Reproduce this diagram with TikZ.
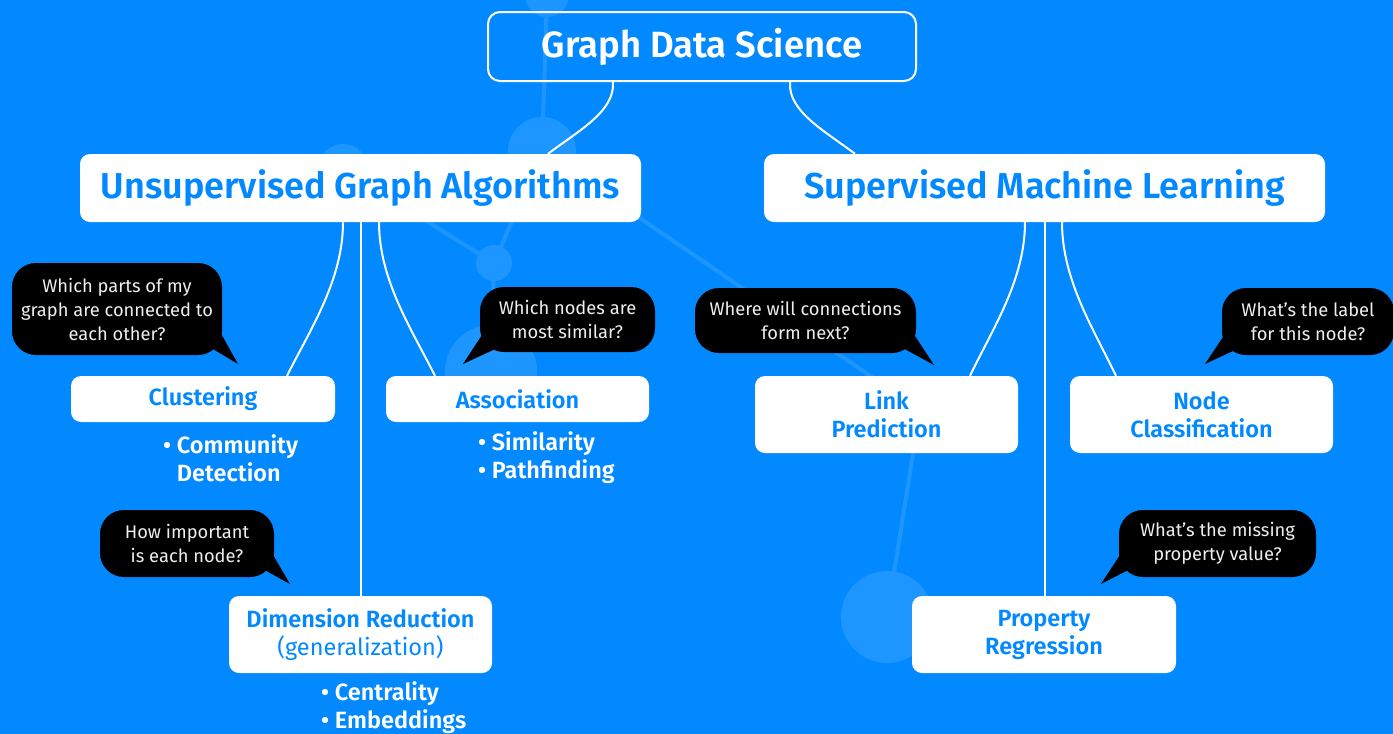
\documentclass[tikz,border=0pt]{standalone}
\usepackage{fontspec}
\setmainfont{Fira Sans}[BoldFont={Fira Sans SemiBold}]
\usetikzlibrary{calc}
\definecolor{bg}{RGB}{3,137,255}
\definecolor{faint}{RGB}{30,150,255}
\definecolor{bubtext}{RGB}{238,238,238}
\begin{document}
\begin{tikzpicture}[x=1pt,y=-1pt,
  box/.style={fill=white, rounded corners=10pt, text=bg, font=\bfseries\fontsize{23.5}{28}\selectfont, align=center, inner sep=0pt},
  bigbox/.style={box, font=\bfseries\fontsize{36}{40}\selectfont},
  topbox/.style={draw=white, line width=2pt, rounded corners=12pt, text=white, font=\bfseries\fontsize{36.5}{40}\selectfont, inner sep=0pt},
  bubble/.style={fill=black, rounded corners=24pt, text=bubtext, font=\fontsize{18.3}{24}\selectfont, align=center, inner sep=0pt},
  link/.style={draw=white, line width=2pt},
  bgline/.style={draw=faint, line width=4pt},
  bgdot/.style={fill=faint},
  bullets/.style={text=white, font=\bfseries\fontsize{23.5}{28}\selectfont, align=left, anchor=west, inner sep=0pt}
]
\useasboundingbox (0,0) rectangle (1393,734);
\fill[bg] (0,0) rectangle (1393,734);

% faint background graph
\coordinate (ga) at (547,-5);
\coordinate (gb) at (542,151);
\coordinate (gc) at (343,169);
\coordinate (gd) at (494,263);
\coordinate (ge) at (491,371);
\coordinate (gf) at (920,410);
\coordinate (gg) at (887,617);
\coordinate (gh) at (660,-12);
\draw[bgline] (ga) -- (gh);
\draw[bgline] (ga) -- (gb);
\draw[bgline] (gb) -- (gd);
\draw[bgline] (gc) -- (gd);
\draw[bgline] (gd) -- (ge);
\draw[bgline] (gb) -- (gf);
\draw[bgline] (gf) -- (gg);
\fill[bgdot] (ga) circle (22);
\fill[bgdot] (gb) circle (34);
\fill[bgdot] (gc) circle (25);
\fill[bgdot] (gd) circle (18);
\fill[bgdot] (ge) circle (46);
\fill[bgdot] (gf) circle (20);
\fill[bgdot] (gg) circle (46);

% main nodes
\node[topbox, minimum width=428pt, minimum height=69pt] (gds) at (702,46.5) {Graph Data Science};
\node[bigbox, minimum width=561pt, minimum height=68pt] (unsup) at (360.5,188) {Unsupervised Graph Algorithms};
\node[bigbox, minimum width=561pt, minimum height=68pt] (sup) at (1044.5,188) {Supervised Machine Learning};

\node[box, minimum width=264pt, minimum height=46pt] (clus) at (203,399) {Clustering};
\node[box, minimum width=263pt, minimum height=46pt] (assoc) at (517.5,399) {Association};
\node[box, minimum width=263pt, minimum height=77pt] (dim) at (360.5,634.5) {Dimension Reduction\\{\mdseries(generalization)}};
\node[box, minimum width=263pt, minimum height=77pt] (link) at (886.5,414.5) {Link\\Prediction};
\node[box, minimum width=263pt, minimum height=77pt] (nodec) at (1201.5,414.5) {Node\\Classification};
\node[box, minimum width=264pt, minimum height=77pt] (prop) at (1044,634.5) {Property\\Regression};

% bullets
\node[bullets] (bclus) at (163,458) {\textbullet\ Community\\\hphantom{\textbullet\ }Detection};
\node[bullets] (bassoc) at (478,458) {\textbullet\ Similarity\\\textbullet\ Pathfinding};
\node[bullets] (bdim) at (321,708) {\textbullet\ Centrality\\\textbullet\ Embeddings};

% connectors
\draw[link] ([xshift=-89pt]gds.south) .. controls +(2,29) and +(32,-24) .. ([xshift=187.5pt]unsup.north);
\draw[link] ([xshift=88pt]gds.south) .. controls +(-2,29) and +(-32,-24) .. ([xshift=-189.5pt]sup.north);
\draw[link] ([xshift=-17.5pt]unsup.south) .. controls +(0,58) and +(23,-46) .. ([xshift=84pt]clus.north);
\draw[link] ([xshift=18.5pt]unsup.south) .. controls +(0,58) and +(-23,-46) .. ([xshift=-82.5pt]assoc.north);
\draw[link] (unsup.south) -- (dim.north);
\draw[link] ([xshift=-19.5pt]sup.south) .. controls +(0,58) and +(22,-46) .. ([xshift=83.5pt]link.north);
\draw[link] ([xshift=17.5pt]sup.south) .. controls +(0,58) and +(-22,-46) .. ([xshift=-85.5pt]nodec.north);
\draw[link] (sup.south) -- (sup.south |- prop.north);

% speech bubbles
\node[bubble, minimum width=210pt, minimum height=92pt] (q1) at (117,309) {Which parts of my\\graph are connected to\\each other?};
\node[bubble, minimum width=175pt, minimum height=65pt] (q2) at (567.5,319.5) {Which nodes are\\most similar?};
\node[bubble, minimum width=221pt, minimum height=65pt] (q3) at (805.5,320.5) {Where will connections\\form next?};
\node[bubble, minimum width=172pt, minimum height=67pt] (q4) at (1308,321.5) {What's the label\\for this node?};
\node[bubble, minimum width=174pt, minimum height=67pt] (q5) at (187,543.5) {How important\\is each node?};
\node[bubble, minimum width=197pt, minimum height=67pt] (q6) at (1217.5,543.5) {What's the missing\\property value?};

\coordinate (t1) at (238,364);
\coordinate (t2) at (463,364);
\coordinate (t3) at (934,365);
\coordinate (t4) at (1205,364);
\coordinate (t5) at (290,584);
\coordinate (t6) at (1101,584);
\fill[black] ($(q1.south east)+(-14,-9)$) -- (t1) -- ($(q1.south east)+(-2,-23)$) -- cycle;
\fill[black] ($(q2.south west)+(2,-17)$) -- (t2) -- ($(q2.south west)+(15,-3)$) -- cycle;
\fill[black] ($(q3.south east)+(-13,-5)$) -- (t3) -- ($(q3.south east)+(-1,-17)$) -- cycle;
\fill[black] ($(q4.south west)+(1,-18)$) -- (t4) -- ($(q4.south west)+(15,-6)$) -- cycle;
\fill[black] ($(q5.south east)+(-11,-8)$) -- (t5) -- ($(q5.south east)+(-1,-22)$) -- cycle;
\fill[black] ($(q6.south west)+(1,-22)$) -- (t6) -- ($(q6.south west)+(11,-8)$) -- cycle;
\end{tikzpicture}
\end{document}
